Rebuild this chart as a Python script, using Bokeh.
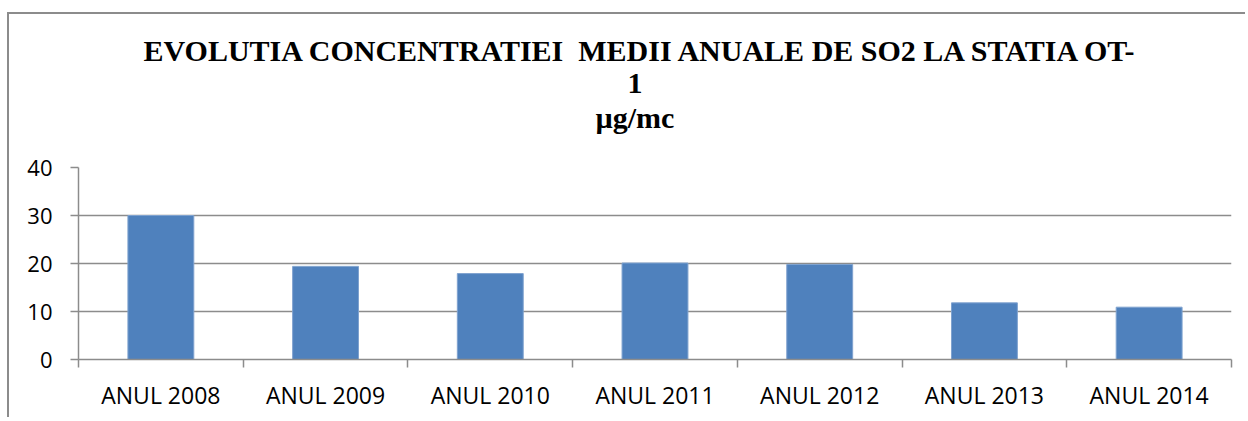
from bokeh.plotting import figure
from bokeh.models import Range1d, FixedTicker, Title, ColumnDataSource
from bokeh.embed import file_html
from bokeh.resources import INLINE

# ---- data ----
categories = ["ANUL 2008", "ANUL 2009", "ANUL 2010", "ANUL 2011", "ANUL 2012", "ANUL 2013", "ANUL 2014"]
so2_values = [30.0, 19.4, 17.9, 20.1, 19.8, 11.8, 10.9]
y_ticks = [0, 10, 20, 30, 40]
title_lines = ["EVOLUTIA CONCENTRATIEI  MEDII ANUALE DE SO2 LA STATIA OT-", "1", "µg/mc"]

n = len(categories)
centers = [i + 0.5 for i in range(n)]
bounds = [float(i) for i in range(n + 1)]

src = ColumnDataSource(dict(x=centers, top=so2_values, cat=categories))

GRAY = "#8c8c8c"

p = figure(width=1238, height=405, output_backend="svg", toolbar_location=None,
           x_range=Range1d(0, n), y_range=Range1d(0, 40),
           min_border_left=69, min_border_right=16, min_border_top=153, min_border_bottom=60)
p.title = None
p.outline_line_color = None
p.background_fill_color = "white"
p.border_fill_color = "white"
p.styles = {"border-top": "2px solid #8c8c8c", "border-left": "2px solid #8c8c8c",
            "margin-top": "12px", "margin-left": "7px"}

p.vbar(x="x", top="top", bottom=0, width=0.4, source=src,
       fill_color="#4F81BD", line_color="#7fa2cf", line_width=1)

# grid
p.xgrid.visible = False
p.ygrid.ticker = FixedTicker(ticks=y_ticks)
p.ygrid.grid_line_color = GRAY
p.ygrid.grid_line_width = 1.5

# y axis
ya = p.yaxis[0]
ya.ticker = FixedTicker(ticks=y_ticks)
ya.axis_line_color = GRAY
ya.axis_line_width = 1.5
ya.major_tick_line_color = GRAY
ya.major_tick_line_width = 1.5
ya.major_tick_out = 8
ya.major_tick_in = 0
ya.minor_tick_line_color = None
ya.major_label_standoff = 18
ya.major_label_text_font = "Open Sans"
ya.major_label_text_font_size = "22px"
ya.major_label_text_color = "black"

# x axis
xa = p.xaxis[0]
xa.ticker = FixedTicker(ticks=centers, minor_ticks=bounds)
xa.major_label_overrides = {c: lab for c, lab in zip(centers, categories)}
xa.axis_line_color = GRAY
xa.axis_line_width = 1.5
xa.major_tick_line_color = None
xa.major_tick_out = 0
xa.major_tick_in = 0
xa.minor_tick_line_color = GRAY
xa.minor_tick_line_width = 1.5
xa.minor_tick_out = 8
xa.minor_tick_in = 0
xa.major_label_standoff = 11
xa.major_label_text_font = "Open Sans"
xa.major_label_text_font_size = "23px"
xa.major_label_text_color = "black"

# spacer between title block and plot frame
p.add_layout(Title(text=" ", text_font_size="1px", standoff=27), "above")

# title lines: added bottom-up (later titles stack further from the frame)
offsets = {title_lines[0]: 65, title_lines[1]: 549, title_lines[2]: 517}
standoffs = {title_lines[0]: 5, title_lines[1]: 5, title_lines[2]: 7}
for txt in reversed(title_lines):
    p.add_layout(Title(text=txt.replace("  ", " \u00a0"), align="left", offset=offsets[txt],
                       text_font="Liberation Serif", text_font_style="bold",
                       text_font_size="30px", text_color="black",
                       standoff=standoffs[txt]), "above")

open("out.html", "w").write(file_html(p, INLINE))
